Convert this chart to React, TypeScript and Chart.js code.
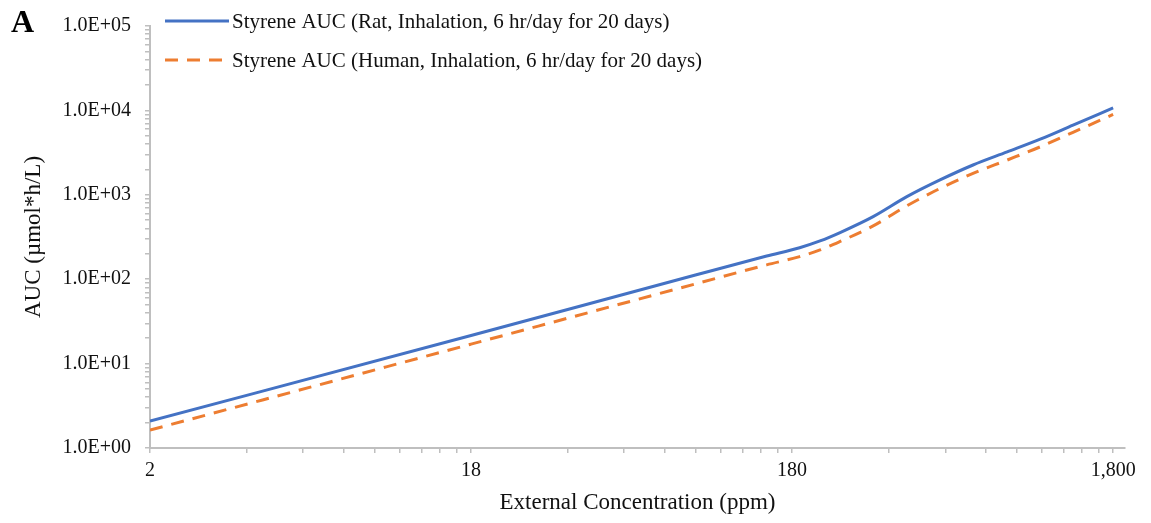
import React, { useEffect, useRef } from 'react';
import { Chart, registerables } from 'chart.js';

Chart.register(...registerables);

// ---- data ----
const concentrations = [1.8, 18, 90, 150, 190, 220, 254, 322, 410, 520, 659, 842, 1067, 1350, 1800];
const ratAUC = [2.08, 21.5, 112, 188, 236, 284, 357, 551, 950, 1500, 2255, 3220, 4560, 6690, 10700];
const humanAUC = [1.63, 17.0, 88, 148, 185, 222, 280, 428, 740, 1190, 1790, 2580, 3700, 5500, 8950];

const seriesLabels = [
  'Styrene AUC (Rat, Inhalation, 6 hr/day for 20 days)',
  'Styrene AUC (Human, Inhalation, 6 hr/day for 20 days)',
];

const xMajorTicks = [1.8, 18, 180, 1800];
const xTickLabels = ['2', '18', '180', '1,800'];
const yMajorTicks = [1, 10, 100, 1000, 10000, 100000];
const yTickLabels = ['1.0E+00', '1.0E+01', '1.0E+02', '1.0E+03', '1.0E+04', '1.0E+05'];

const X_MIN = 1.8;
const X_MAX = 1960;
const Y_MIN = 1;
const Y_MAX = 100000;

const xTitle = 'External Concentration (ppm)';
const yTitle = 'AUC (\u00b5mol*h/L)';
const panelLabel = 'A';

const FONT = "'Liberation Serif', 'Times New Roman', serif";
const BLUE = '#4472C4';
const ORANGE = '#ED7D31';
const AXIS_GRAY = '#BFBFBF';
const TEXT = '#111111';

function minorTicks(majors: number[], max: number): number[] {
  const out: number[] = [];
  for (const m of majors) {
    for (let k = 1; k <= 9; k++) {
      const v = m * k;
      if (v <= max * 1.0000001) out.push(v);
    }
  }
  return out;
}

function labelFor(value: number, majors: number[], labels: string[]): string {
  for (let i = 0; i < majors.length; i++) {
    if (Math.abs(value - majors[i]) / majors[i] < 1e-6) return labels[i];
  }
  return '';
}

const overlayPlugin = {
  id: 'overlayLegend',
  afterDraw(chart: any) {
    const ctx = chart.ctx as CanvasRenderingContext2D;
    ctx.save();
    ctx.textAlign = 'left';
    ctx.textBaseline = 'middle';
    ctx.fillStyle = '#000';
    ctx.font = `bold 32px ${FONT}`;
    ctx.fillText(panelLabel, 11, 24);

    const rows = [21, 60];
    chart.data.datasets.forEach((ds: any, i: number) => {
      const y = rows[i];
      ctx.beginPath();
      ctx.setLineDash(ds.borderDash || []);
      ctx.lineWidth = ds.borderWidth;
      ctx.strokeStyle = ds.borderColor;
      ctx.lineCap = 'butt';
      ctx.moveTo(165, y);
      ctx.lineTo(229, y);
      ctx.stroke();
      ctx.setLineDash([]);
      ctx.font = `21px ${FONT}`;
      ctx.fillStyle = TEXT;
      ctx.fillText(ds.label, 232, y + 1);
    });
    ctx.restore();
  },
};

export default function App() {
  const canvasRef = useRef<HTMLCanvasElement | null>(null);

  useEffect(() => {
    if (!canvasRef.current) return;
    const xTicks = minorTicks(xMajorTicks, X_MAX);
    const yTicks = minorTicks(yMajorTicks.slice(0, -1), Y_MAX).concat([Y_MAX]);

    const chart = new Chart(canvasRef.current, {
      type: 'line',
      data: {
        datasets: [
          {
            label: seriesLabels[0],
            data: concentrations.map((x, i) => ({ x, y: ratAUC[i] })),
            borderColor: BLUE,
            backgroundColor: BLUE,
            borderWidth: 3,
            pointRadius: 0,
            cubicInterpolationMode: 'monotone',
            fill: false,
          },
          {
            label: seriesLabels[1],
            data: concentrations.map((x, i) => ({ x, y: humanAUC[i] })),
            borderColor: ORANGE,
            backgroundColor: ORANGE,
            borderWidth: 3,
            borderDash: [13, 9],
            pointRadius: 0,
            cubicInterpolationMode: 'monotone',
            fill: false,
          },
        ],
      },
      options: {
        animation: false,
        responsive: true,
        maintainAspectRatio: false,
        events: [],
        layout: { padding: { left: 0, right: 26, top: 23, bottom: 0 } },
        plugins: {
          legend: { display: false },
          title: { display: false },
          tooltip: { enabled: false },
        },
        scales: {
          x: {
            type: 'logarithmic',
            min: X_MIN,
            max: X_MAX,
            afterBuildTicks: (scale: any) => {
              scale.ticks = xTicks.map((v) => ({ value: v }));
            },
            afterFit: (scale: any) => {
              scale.height = 75;
            },
            ticks: {
              autoSkip: false,
              maxRotation: 0,
              minRotation: 0,
              padding: 6,
              color: TEXT,
              font: { family: FONT, size: 20 },
              callback: (value: any) => labelFor(Number(value), xMajorTicks, xTickLabels),
            },
            grid: {
              display: true,
              drawOnChartArea: false,
              drawTicks: true,
              tickLength: 5,
              color: AXIS_GRAY,
              lineWidth: 1.5,
            },
            border: { display: true, color: AXIS_GRAY, width: 2 },
            title: {
              display: true,
              text: xTitle,
              color: TEXT,
              font: { family: FONT, size: 23 },
              padding: { top: 0, bottom: 6 },
            },
          },
          y: {
            type: 'logarithmic',
            min: Y_MIN,
            max: Y_MAX,
            afterBuildTicks: (scale: any) => {
              scale.ticks = yTicks.map((v) => ({ value: v }));
            },
            afterFit: (scale: any) => {
              scale.width = 150;
            },
            ticks: {
              autoSkip: false,
              padding: 14,
              color: TEXT,
              font: { family: FONT, size: 20 },
              callback: (value: any) => labelFor(Number(value), yMajorTicks, yTickLabels),
            },
            grid: {
              display: true,
              drawOnChartArea: false,
              drawTicks: true,
              tickLength: 5,
              color: AXIS_GRAY,
              lineWidth: 1.5,
            },
            border: { display: true, color: AXIS_GRAY, width: 2 },
            title: {
              display: true,
              text: yTitle,
              color: TEXT,
              font: { family: FONT, size: 23 },
              padding: { top: 20, bottom: 0 },
            },
          },
        },
      } as any,
      plugins: [overlayPlugin],
    });

    return () => {
      chart.destroy();
    };
  }, []);

  return (
    <div
      style={{
        position: 'absolute',
        left: 0,
        top: 0,
        width: 1151,
        height: 523,
        background: '#ffffff',
      }}
    >
      <canvas ref={canvasRef} />
    </div>
  );
}
